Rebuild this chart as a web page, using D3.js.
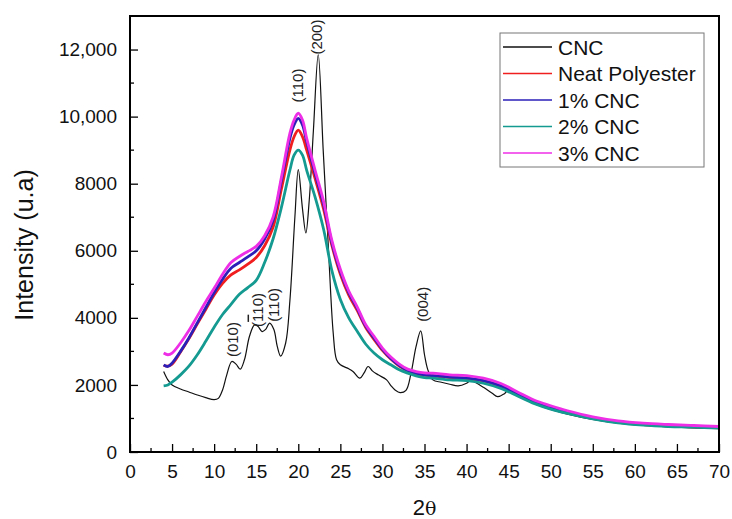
<!DOCTYPE html>
<html>
<head>
<meta charset="utf-8">
<script src="https://cdn.jsdelivr.net/npm/d3@7/dist/d3.min.js"></script>
<style>
  html, body { margin: 0; padding: 0; background: #fff; }
  svg { display: block; font-family: "Liberation Sans", Arial, sans-serif; }
</style>
</head>
<body>
<svg id="chart" width="732" height="519"></svg>
<script>
// ---- Data: XRD patterns (2θ in degrees vs intensity) ----
const seriesNames = ["CNC", "Neat Polyester", "1% CNC", "2% CNC", "3% CNC"];
const seriesColors = ["#111111", "#f01e1e", "#2b1fb8", "#149a90", "#ee2ee6"];

// CNC pattern (sharper crystalline peaks, sampled more finely)
const cncTheta = [4, 4.5, 5, 6, 7, 8, 9, 10, 10.5, 11, 11.5, 12.1, 12.6, 13.1, 13.6, 14.2, 14.8, 15.2, 15.7, 16.1, 16.6, 17.1, 17.5, 17.9, 18.5, 19, 19.6, 20, 20.5, 20.9, 21.3, 21.8, 22.37, 22.96, 23.55, 24.15, 24.55, 25, 26, 26.5, 27.3, 27.8, 28.3, 28.8, 29.5, 30.5, 31, 31.5, 32.1, 32.8, 33.4, 34, 34.55, 35, 35.4, 36, 37, 38, 39, 40, 40.5, 41, 42, 43, 43.7, 44.5, 45, 46, 48, 50, 52, 55, 58, 61, 64, 67, 70];
const cncIntensity = [2400, 2150, 2000, 1880, 1790, 1700, 1620, 1560, 1600, 1850, 2300, 2700, 2620, 2470, 2750, 3450, 3790, 3750, 3590, 3650, 3840, 3650, 3150, 2860, 3250, 4500, 7020, 8420, 7250, 6530, 7500, 9600, 11850, 9000, 6230, 3550, 2750, 2600, 2480, 2400, 2200, 2350, 2550, 2420, 2300, 2150, 1980, 1850, 1770, 1840, 2350, 3150, 3610, 2900, 2450, 2150, 2080, 2020, 1970, 2050, 2130, 2080, 1930, 1760, 1650, 1740, 1850, 1700, 1450, 1270, 1130, 970, 860, 790, 750, 720, 700];

// Polyester and nanocomposite patterns share one 2θ grid
const blendTheta = [4, 4.5, 5, 6, 7, 8, 9, 10, 11, 12, 13, 14, 15, 16, 17, 18, 19, 19.5, 20, 20.5, 21, 22, 23, 24, 25, 26, 27, 28, 29, 30, 31, 32, 33, 34, 35, 36, 38, 40, 42, 44, 46, 48, 50, 52, 55, 58, 61, 64, 67, 70];
const neatIntensity = [2580, 2560, 2620, 2980, 3380, 3820, 4250, 4680, 5030, 5280, 5430, 5600, 5800, 6150, 6700, 7850, 9000, 9400, 9600, 9400, 9000, 8150, 7250, 6150, 5300, 4680, 4220, 3720, 3360, 3030, 2770, 2560, 2420, 2340, 2290, 2270, 2220, 2190, 2120, 1970, 1730, 1490, 1320, 1180, 1010, 890, 820, 780, 750, 720];
const cnc1Intensity = [2600, 2550, 2650, 3000, 3400, 3850, 4300, 4750, 5150, 5480, 5650, 5820, 6000, 6350, 6900, 8100, 9350, 9750, 9950, 9750, 9250, 8300, 7380, 6230, 5380, 4750, 4280, 3760, 3400, 3060, 2790, 2580, 2430, 2350, 2300, 2280, 2230, 2200, 2130, 1980, 1740, 1500, 1330, 1190, 1020, 900, 830, 790, 760, 730];
const cnc2Intensity = [1970, 2000, 2080, 2300, 2560, 2900, 3300, 3720, 4100, 4400, 4700, 4900, 5120, 5650, 6350, 7300, 8400, 8850, 9000, 8850, 8400, 7600, 6650, 5400, 4550, 4000, 3600, 3220, 2950, 2750, 2600, 2450, 2350, 2270, 2220, 2200, 2150, 2130, 2050, 1900, 1680, 1450, 1280, 1150, 990, 870, 800, 760, 740, 710];
const cnc3Intensity = [2950, 2900, 2950, 3250, 3620, 4050, 4480, 4880, 5300, 5650, 5830, 5980, 6130, 6450, 7000, 8200, 9500, 9900, 10100, 9900, 9350, 8400, 7480, 6300, 5450, 4800, 4330, 3800, 3450, 3100, 2830, 2620, 2470, 2400, 2360, 2350, 2300, 2280, 2200, 2050, 1800, 1550, 1380, 1230, 1050, 930, 860, 820, 790, 760];

// Axis tick values and labels
const xTicks = [0, 5, 10, 15, 20, 25, 30, 35, 40, 45, 50, 55, 60, 65, 70];
const yTicks = [0, 2000, 4000, 6000, 8000, 10000, 12000];
const yTickLabels = ["0", "2000", "4000", "6000", "8000", "10,000", "12,000"];

// Miller-index labels for the CNC reflections: text, 2θ, and the intensity
// at which the vertical label starts; barred marks a negative index digit
const peakLabels = ["(010)", "(110)", "(110)", "(110)", "(200)", "(004)"];
const peakLabelBarred = [false, true, false, false, false, false];
const peakLabelTheta = [12.2, 15.1, 17.0, 19.95, 22.2, 34.8];
const peakLabelBase = [2830, 3730, 3880, 10420, 11850, 3880];

// ---- Layout ----
const svg = d3.select("#chart");
const margin = { left: 130, right: 13, top: 16, bottom: 67 };
const W = 732, H = 519;
const x = d3.scaleLinear().domain([0, 70]).range([margin.left, W - margin.right]);
const y = d3.scaleLinear().domain([0, 13000]).range([H - margin.bottom, margin.top]);

// Curves
const line = d3.line().curve(d3.curveCatmullRom.alpha(0.5));
const blends = [neatIntensity, cnc1Intensity, cnc2Intensity, cnc3Intensity];

const plot = svg.append("g");
plot.append("path")
  .attr("d", line(cncTheta.map((t, i) => [x(t), y(cncIntensity[i])])))
  .attr("fill", "none").attr("stroke", seriesColors[0]).attr("stroke-width", 1.2)
  .attr("stroke-linejoin", "round");
blends.forEach((vals, k) => {
  plot.append("path")
    .attr("d", line(blendTheta.map((t, i) => [x(t), y(vals[i])])))
    .attr("fill", "none").attr("stroke", seriesColors[k + 1]).attr("stroke-width", 2.8)
    .attr("stroke-linejoin", "round");
});

// Frame
svg.append("rect")
  .attr("x", x(0)).attr("y", y(13000))
  .attr("width", x(70) - x(0)).attr("height", y(0) - y(13000))
  .attr("fill", "none").attr("stroke", "#000").attr("stroke-width", 2);

// Axes with inward ticks
const xAxis = d3.axisBottom(x).tickValues(xTicks).tickSize(-8).tickPadding(13).tickFormat(d3.format("d"));
const gx = svg.append("g").attr("transform", `translate(0,${y(0)})`).call(xAxis);
const xMinor = d3.range(2.5, 70, 5);
gx.selectAll(".minor").data(xMinor).enter().append("line").attr("class", "minor")
  .attr("x1", d => x(d)).attr("x2", d => x(d)).attr("y1", 0).attr("y2", -4)
  .attr("stroke", "#000").attr("stroke-width", 1.3);

const yAxis = d3.axisLeft(y).tickValues(yTicks).tickSize(-8).tickPadding(13)
  .tickFormat((d, i) => yTickLabels[i]);
const gy = svg.append("g").attr("transform", `translate(${x(0)},0)`).call(yAxis);
const yMinor = d3.range(1000, 13000, 2000);
gy.selectAll(".minor").data(yMinor).enter().append("line").attr("class", "minor")
  .attr("x1", 0).attr("x2", 4).attr("y1", d => y(d)).attr("y2", d => y(d))
  .attr("stroke", "#000").attr("stroke-width", 1.3);

[gx, gy].forEach(g => {
  g.select(".domain").remove();
  g.selectAll(".tick line").attr("stroke", "#000").attr("stroke-width", 1.3);
  g.selectAll(".tick text").attr("fill", "#111").style("font-size", "19px")
    .style("font-family", "'Liberation Sans', Arial, sans-serif");
});

// Axis titles
const xt = svg.append("text").attr("x", x(35)).attr("y", 515).attr("text-anchor", "middle")
  .style("font-size", "22px").attr("fill", "#111");
xt.append("tspan").text("2");
xt.append("tspan").style("font-family", "'DejaVu Serif', 'Liberation Serif', serif")
  .style("font-size", "19px").text("\u03B8");
svg.append("text").attr("transform", `translate(33,${245}) rotate(-90)`)
  .attr("text-anchor", "middle").style("font-size", "25px").attr("fill", "#111")
  .text("Intensity (u.a)");

// Peak labels (vertical text above each reflection)
peakLabels.forEach((lab, i) => {
  const px = x(peakLabelTheta[i]) + 5.5;
  const py = y(peakLabelBase[i]);
  const t = svg.append("text")
    .attr("transform", `translate(${px},${py}) rotate(-90)`)
    .attr("text-anchor", "start").style("font-size", "15px").attr("fill", "#222");
  if (peakLabelBarred[i]) {
    t.append("tspan").text("(");
    t.append("tspan").style("text-decoration", "overline").text("1");
    t.append("tspan").text(lab.slice(2));
  } else {
    t.text(lab);
  }
});

// Legend
const lg = svg.append("g").attr("transform", "translate(500,33)");
lg.append("rect").attr("width", 204).attr("height", 134)
  .attr("fill", "#fff").attr("stroke", "#777").attr("stroke-width", 1);
seriesNames.forEach((name, i) => {
  const ly = 14 + i * 26.5;
  lg.append("line").attr("x1", 3).attr("x2", 52).attr("y1", ly).attr("y2", ly)
    .attr("stroke", seriesColors[i]).attr("stroke-width", 1.3);
  lg.append("text").attr("x", 58).attr("y", ly + 7.5).style("font-size", "21px")
    .attr("fill", "#111").text(name);
});
</script>
</body>
</html>
